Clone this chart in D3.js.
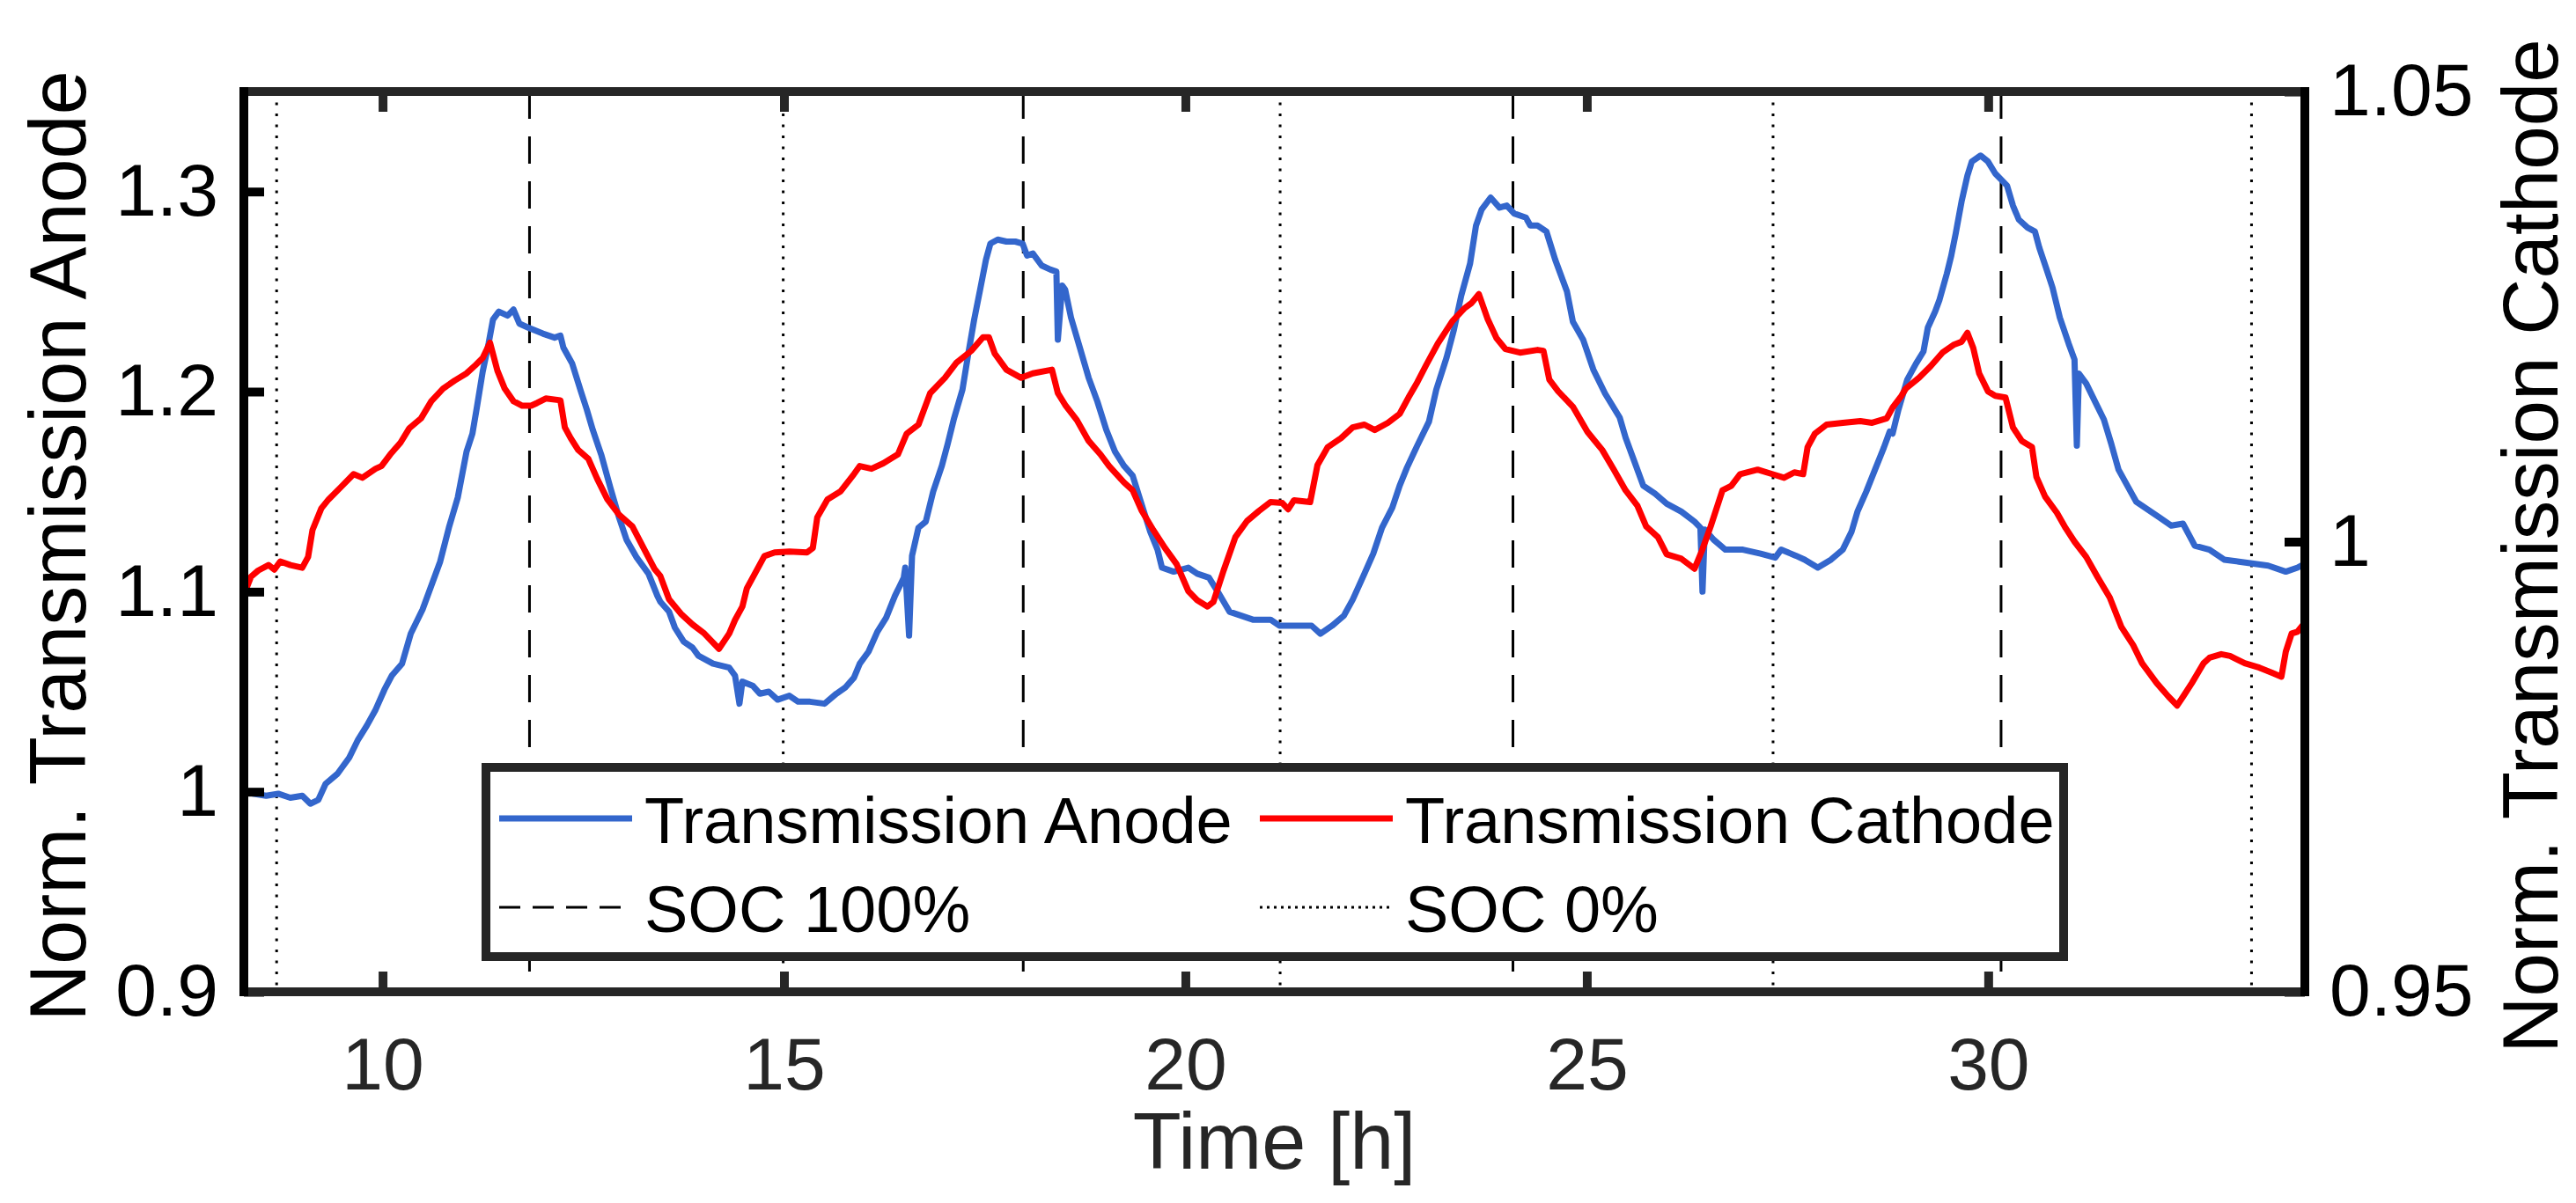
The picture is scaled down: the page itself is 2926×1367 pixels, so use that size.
<!DOCTYPE html>
<html><head><meta charset="utf-8">
<script src="https://cdn.jsdelivr.net/npm/d3@7"></script>
<style>
body{margin:0;background:#fff}
svg{display:block}
text{font-family:"Liberation Sans",Arial,Helvetica,sans-serif}
</style>
</head><body>
<svg id="c" width="2926" height="1367"></svg>
<script>
// ---------- data ----------
const blueTime = [8.272,8.40,8.55,8.70,8.85,9.00,9.10,9.20,9.291,9.438,9.584,9.694,9.803,9.913,10.023,10.114,10.242,10.351,10.497,10.607,10.717,10.826,10.936,11.046,11.119,11.174,11.247,11.32,11.375,11.448,11.557,11.631,11.704,11.813,11.996,12.142,12.215,12.252,12.362,12.471,12.544,12.617,12.727,12.837,12.946,13.038,13.166,13.312,13.422,13.459,13.568,13.641,13.751,13.861,13.934,14.116,14.318,14.39,14.445,14.482,14.61,14.701,14.811,14.921,15.067,15.176,15.323,15.505,15.652,15.761,15.871,15.944,16.053,16.163,16.273,16.383,16.492,16.51,16.558,16.595,16.675,16.766,16.858,16.967,17.04,17.114,17.223,17.296,17.369,17.443,17.516,17.571,17.662,17.771,17.881,17.972,18.027,18.1,18.21,18.32,18.393,18.411,18.466,18.502,18.575,18.685,18.794,18.904,19.014,19.123,19.233,19.343,19.452,19.562,19.653,19.708,19.854,20.037,20.147,20.293,20.403,20.549,20.695,20.841,21.061,21.17,21.353,21.572,21.682,21.828,21.974,22.084,22.23,22.34,22.449,22.577,22.669,22.76,22.888,23.034,23.125,23.253,23.345,23.436,23.546,23.62,23.69,23.802,23.912,24.003,24.095,24.241,24.296,24.387,24.497,24.606,24.753,24.826,24.954,25.081,25.228,25.41,25.483,25.593,25.703,25.849,25.995,26.178,26.342,26.415,26.441,26.47,26.58,26.726,26.945,27.165,27.347,27.42,27.603,27.713,27.877,28.042,28.188,28.298,28.371,28.481,28.59,28.7,28.773,28.809,28.882,28.992,29.101,29.193,29.248,29.339,29.394,29.485,29.54,29.595,29.668,29.741,29.796,29.905,29.997,30.088,30.234,30.308,30.381,30.49,30.582,30.636,30.728,30.801,30.892,31.002,31.075,31.104,31.13,31.221,31.331,31.441,31.532,31.623,31.733,31.843,31.989,32.135,32.281,32.427,32.573,32.756,32.939,33.122,33.305,33.487,33.707,33.853,33.944];
const blueValue = [1.000,0.999,0.998,0.999,0.997,0.998,0.994,0.996,1.004,1.009,1.017,1.026,1.033,1.041,1.051,1.058,1.064,1.079,1.091,1.103,1.115,1.132,1.147,1.170,1.179,1.192,1.210,1.224,1.236,1.240,1.238,1.241,1.234,1.232,1.229,1.227,1.228,1.222,1.214,1.200,1.191,1.181,1.168,1.152,1.137,1.126,1.117,1.109,1.098,1.095,1.090,1.082,1.075,1.072,1.068,1.064,1.062,1.058,1.044,1.055,1.053,1.049,1.050,1.046,1.048,1.045,1.045,1.044,1.049,1.052,1.057,1.064,1.070,1.080,1.087,1.098,1.107,1.112,1.078,1.118,1.132,1.135,1.150,1.163,1.174,1.186,1.201,1.219,1.236,1.251,1.266,1.274,1.276,1.275,1.275,1.274,1.268,1.269,1.263,1.261,1.260,1.226,1.253,1.251,1.237,1.222,1.207,1.195,1.181,1.170,1.163,1.158,1.144,1.130,1.121,1.112,1.110,1.112,1.109,1.107,1.100,1.090,1.088,1.086,1.086,1.083,1.083,1.083,1.079,1.083,1.088,1.096,1.109,1.119,1.132,1.142,1.153,1.162,1.173,1.185,1.201,1.217,1.231,1.248,1.264,1.283,1.291,1.297,1.292,1.293,1.289,1.287,1.283,1.283,1.280,1.266,1.250,1.235,1.226,1.211,1.199,1.187,1.177,1.165,1.153,1.149,1.144,1.140,1.135,1.132,1.100,1.131,1.126,1.121,1.121,1.119,1.117,1.121,1.118,1.116,1.112,1.116,1.121,1.130,1.140,1.150,1.161,1.172,1.180,1.179,1.191,1.206,1.214,1.220,1.232,1.240,1.246,1.259,1.268,1.279,1.295,1.308,1.315,1.318,1.315,1.309,1.303,1.293,1.286,1.282,1.280,1.272,1.261,1.252,1.237,1.224,1.216,1.173,1.209,1.204,1.195,1.186,1.174,1.161,1.153,1.145,1.141,1.137,1.133,1.134,1.123,1.121,1.116,1.115,1.114,1.113,1.110,1.112,1.114];

const redTime = [8.268,8.36,8.451,8.579,8.652,8.725,8.853,8.999,9.072,9.127,9.237,9.328,9.474,9.639,9.748,9.913,9.986,10.096,10.223,10.333,10.479,10.607,10.753,10.899,11.046,11.156,11.247,11.338,11.43,11.521,11.631,11.74,11.85,11.923,12.033,12.215,12.27,12.343,12.435,12.563,12.672,12.8,12.946,13.111,13.239,13.385,13.459,13.568,13.715,13.861,14.007,14.19,14.318,14.39,14.482,14.537,14.628,14.756,14.884,15.067,15.286,15.359,15.414,15.542,15.706,15.871,15.944,16.09,16.236,16.419,16.529,16.675,16.821,17.004,17.15,17.333,17.479,17.552,17.625,17.771,17.954,18.1,18.338,18.411,18.502,18.648,18.794,18.941,19.05,19.233,19.343,19.452,19.599,19.745,19.891,20.037,20.147,20.275,20.348,20.476,20.622,20.768,20.914,21.06,21.207,21.28,21.353,21.554,21.645,21.773,21.938,22.084,22.23,22.358,22.522,22.669,22.778,22.888,22.998,23.144,23.326,23.473,23.564,23.655,23.766,23.875,23.985,24.168,24.387,24.46,24.533,24.643,24.826,25.008,25.191,25.337,25.483,25.63,25.739,25.886,25.995,26.178,26.342,26.434,26.543,26.69,26.799,26.909,27.128,27.311,27.457,27.585,27.695,27.75,27.841,27.987,28.188,28.407,28.554,28.736,28.809,28.919,28.973,29.138,29.284,29.43,29.577,29.668,29.741,29.814,29.887,29.997,30.088,30.216,30.308,30.417,30.545,30.6,30.709,30.856,30.965,31.075,31.221,31.367,31.514,31.66,31.806,31.916,32.098,32.245,32.354,32.428,32.537,32.683,32.756,32.903,33.012,33.195,33.378,33.542,33.652,33.707,33.78,33.853,33.944];
const redValue = [0.9940,0.9961,0.9968,0.9974,0.9969,0.9978,0.9974,0.9971,0.9983,1.0013,1.0037,1.0047,1.0060,1.0075,1.0071,1.0081,1.0084,1.0097,1.0110,1.0126,1.0137,1.0156,1.0170,1.0179,1.0187,1.0196,1.0204,1.0221,1.0190,1.0170,1.0156,1.0151,1.0151,1.0154,1.0159,1.0157,1.0127,1.0115,1.0102,1.0092,1.0070,1.0047,1.0030,1.0017,0.9995,0.9970,0.9962,0.9936,0.9920,0.9908,0.9898,0.9881,0.9898,0.9913,0.9928,0.9948,0.9963,0.9984,0.9988,0.9989,0.9988,0.9993,1.0027,1.0047,1.0056,1.0075,1.0084,1.0081,1.0087,1.0097,1.0120,1.0130,1.0165,1.0182,1.0199,1.0212,1.0227,1.0227,1.0209,1.0191,1.0182,1.0187,1.0191,1.0165,1.0152,1.0135,1.0112,1.0097,1.0084,1.0066,1.0057,1.0035,1.0013,0.9993,0.9975,0.9945,0.9935,0.9928,0.9933,0.9968,1.0005,1.0023,1.0034,1.0044,1.0043,1.0036,1.0046,1.0044,1.0085,1.0105,1.0115,1.0127,1.0130,1.0124,1.0132,1.0142,1.0160,1.0177,1.0196,1.0220,1.0245,1.0259,1.0265,1.0275,1.0247,1.0226,1.0214,1.0210,1.0213,1.0212,1.0180,1.0167,1.0150,1.0122,1.0102,1.0080,1.0057,1.0040,1.0017,1.0005,0.9986,0.9981,0.9970,0.9990,1.0017,1.0057,1.0062,1.0075,1.0080,1.0075,1.0071,1.0077,1.0075,1.0105,1.0120,1.0130,1.0132,1.0134,1.0132,1.0137,1.0149,1.0162,1.0170,1.0182,1.0195,1.0210,1.0219,1.0222,1.0232,1.0215,1.0187,1.0167,1.0162,1.0160,1.0127,1.0112,1.0105,1.0072,1.0050,1.0032,1.0015,1.0000,0.9983,0.9960,0.9938,0.9905,0.9885,0.9865,0.9843,0.9828,0.9818,0.9828,0.9843,0.9865,0.9871,0.9875,0.9873,0.9865,0.9860,0.9854,0.9850,0.9878,0.9898,0.9900,0.9910];

const soc100Times = [11.83, 17.98, 24.08, 30.16];
const soc0Times = [8.68, 14.99, 21.18, 27.32, 33.28];

const xTicks = [10, 15, 20, 25, 30];
const xTickLabels = ["10", "15", "20", "25", "30"];
const yLeftTicks = [0.9, 1.0, 1.1, 1.2, 1.3];
const yLeftTickLabels = ["0.9", "1", "1.1", "1.2", "1.3"];
const yRightTicks = [0.95, 1.0, 1.05];
const yRightTickLabels = ["0.95", "1", "1.05"];

const seriesNames = ["Transmission Anode", "Transmission Cathode", "SOC 100%", "SOC 0%"];
const xLabel = "Time [h]";
const yLeftLabel = "Norm. Transmission Anode";
const yRightLabel = "Norm. Transmission Cathode";

// ---------- layout ----------
const X0 = 277, X1 = 2618, Y0 = 104, Y1 = 1127;
const FONT = '"Liberation Sans",Arial,Helvetica,sans-serif';
const BLUE = "#3366cc", RED = "#ff0000", AX = "#262626";

const svg = d3.select("#c");
const x = d3.scaleLinear().domain([8.272, 33.944]).range([X0, X1]);
const yL = d3.scaleLinear().domain([0.9, 1.35]).range([Y1, Y0]);
const yR = d3.scaleLinear().domain([0.95, 1.05]).range([Y1, Y0]);

svg.append("defs").append("clipPath").attr("id", "plotclip")
  .append("rect").attr("x", X0).attr("y", Y0).attr("width", X1 - X0).attr("height", Y1 - Y0);

const plot = svg.append("g").attr("clip-path", "url(#plotclip)");

// SOC lines
plot.selectAll("line.soc100").data(soc100Times).join("line")
  .attr("x1", d => x(d)).attr("x2", d => x(d)).attr("y1", Y0).attr("y2", Y1)
  .attr("stroke", "#000").attr("stroke-width", 3).attr("stroke-dasharray", "31,20");
plot.selectAll("line.soc0").data(soc0Times).join("line")
  .attr("x1", d => x(d)).attr("x2", d => x(d)).attr("y1", Y0).attr("y2", Y1)
  .attr("stroke", "#000").attr("stroke-width", 3).attr("stroke-dasharray", "3,9.5");

// curves
const blueData = blueTime.map((t, i) => [t, blueValue[i]]);
const redData = redTime.map((t, i) => [t, redValue[i]]);
plot.append("path").datum(blueData)
  .attr("d", d3.line().x(d => x(d[0])).y(d => yL(d[1])))
  .attr("fill", "none").attr("stroke", BLUE).attr("stroke-width", 7)
  .attr("stroke-linejoin", "round").attr("stroke-linecap", "round");
plot.append("path").datum(redData)
  .attr("d", d3.line().x(d => x(d[0])).y(d => yR(d[1])))
  .attr("fill", "none").attr("stroke", RED).attr("stroke-width", 7)
  .attr("stroke-linejoin", "round").attr("stroke-linecap", "round");

// axes
function styleAxis(g, color, fs) {
  g.select(".domain").remove();
  g.attr("font-family", FONT).attr("font-size", fs);
  g.selectAll(".tick line").attr("stroke", color).attr("stroke-width", 10);
  g.selectAll(".tick text").attr("fill", color);
}
const gB = svg.append("g").attr("transform", `translate(0,${Y1})`)
  .call(d3.axisBottom(x).tickValues(xTicks).tickSizeInner(-23).tickSizeOuter(0).tickPadding(51)
    .tickFormat((d, i) => xTickLabels[i]));
styleAxis(gB, AX, 84);
const gT = svg.append("g").attr("transform", `translate(0,${Y0})`)
  .call(d3.axisTop(x).tickValues(xTicks).tickSizeInner(-23).tickSizeOuter(0).tickFormat(""));
styleAxis(gT, AX, 84);
const gL = svg.append("g").attr("transform", `translate(${X0},0)`)
  .call(d3.axisLeft(yL).tickValues(yLeftTicks).tickSizeInner(-23).tickSizeOuter(0).tickPadding(29)
    .tickFormat((d, i) => yLeftTickLabels[i]));
styleAxis(gL, "#000", 84);
const gR = svg.append("g").attr("transform", `translate(${X1},0)`)
  .call(d3.axisRight(yR).tickValues(yRightTicks).tickSizeInner(-23).tickSizeOuter(0).tickPadding(28)
    .tickFormat((d, i) => yRightTickLabels[i]));
styleAxis(gR, "#000", 84);

// frame
const frame = svg.append("g").attr("stroke-width", 10).attr("stroke-linecap", "square");
frame.append("line").attr("x1", X0).attr("x2", X1).attr("y1", Y0).attr("y2", Y0).attr("stroke", AX);
frame.append("line").attr("x1", X0).attr("x2", X1).attr("y1", Y1).attr("y2", Y1).attr("stroke", AX);
frame.append("line").attr("x1", X0).attr("x2", X0).attr("y1", Y0).attr("y2", Y1).attr("stroke", "#000");
frame.append("line").attr("x1", X1).attr("x2", X1).attr("y1", Y0).attr("y2", Y1).attr("stroke", "#000");

// axis labels
svg.append("text").attr("x", (X0 + X1) / 2).attr("y", 1328).attr("text-anchor", "middle")
  .attr("font-size", 90).attr("fill", AX).text(xLabel);
svg.append("text").attr("transform", `translate(97,${(Y0 + Y1) / 2 + 5}) rotate(-90)`)
  .attr("text-anchor", "middle").attr("font-size", 90).attr("fill", "#000").text(yLeftLabel);
svg.append("text").attr("transform", `translate(2905,${(Y0 + Y1) / 2 + 5}) rotate(-90)`)
  .attr("text-anchor", "middle").attr("font-size", 89).attr("fill", "#000").text(yRightLabel);

// legend
const leg = svg.append("g");
leg.append("rect").attr("x", 552).attr("y", 872).attr("width", 2344 - 552).attr("height", 1087 - 872)
  .attr("fill", "#fff").attr("stroke", AX).attr("stroke-width", 10);
const legItems = [
  {name: seriesNames[0], col: 0, row: 0, color: BLUE, w: 7, dash: null},
  {name: seriesNames[1], col: 1, row: 0, color: RED, w: 7, dash: null},
  {name: seriesNames[2], col: 0, row: 1, color: "#000", w: 3, dash: "24,14"},
  {name: seriesNames[3], col: 1, row: 1, color: "#000", w: 3, dash: "3,5"}
];
const colX = [567, 1431], rowY = [930, 1031];
legItems.forEach(it => {
  const lx = colX[it.col], ly = rowY[it.row];
  const ln = leg.append("line").attr("x1", lx).attr("x2", lx + 151).attr("y1", ly).attr("y2", ly)
    .attr("stroke", it.color).attr("stroke-width", it.w);
  if (it.dash) ln.attr("stroke-dasharray", it.dash);
  leg.append("text").attr("x", lx + 165).attr("y", ly + 28).attr("font-size", 74).attr("fill", "#000").text(it.name);
});
</script>
</body></html>
